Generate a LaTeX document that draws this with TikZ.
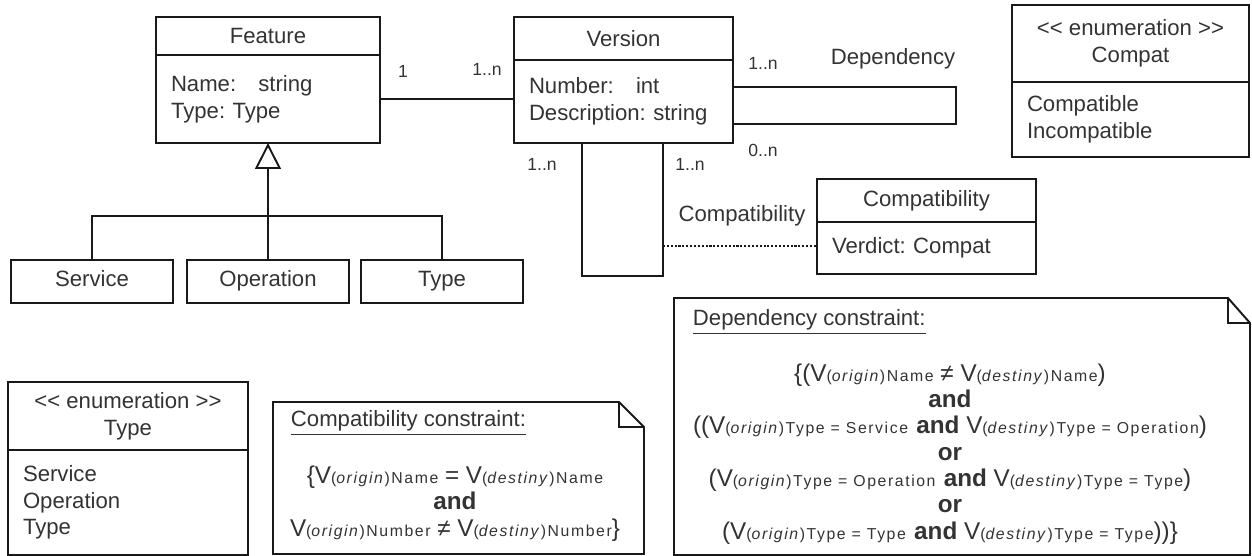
\documentclass[tikz,border=0pt]{standalone}
\usepackage{fontspec}
\setmainfont{Liberation Sans}
\newfontfamily\spacedfont[LetterSpace=10]{Liberation Sans}
\usetikzlibrary{positioning,arrows.meta}

\definecolor{inkgray}{RGB}{51,51,51}
\definecolor{inkline}{RGB}{25,25,25}

\newcommand{\umlfont}{\fontsize{12.6}{15.2}\selectfont}
\newcommand{\multfont}{\fontsize{10}{12}\selectfont}
\newcommand{\notefont}{\fontsize{13.8}{15}\selectfont}
\newcommand{\sm}[1]{{\spacedfont\fontsize{9}{11}\selectfont #1}}
\newcommand{\Vsub}[1]{V\sm{(\textit{#1})}}
\newcommand{\stereo}[1]{<\kern0pt< #1 >\kern0pt>}

\begin{document}
\frenchspacing
\begin{tikzpicture}[line width=1.1pt,draw=inkline,text=inkgray]
 	\def \toprow{10.40cm}
 	\def \subrow{5.49cm}
 	\def \multtop{9.74cm}
 	\def \multlow{7.84cm}

 	\useasboundingbox (0,0) rectangle (25.04cm,11.12cm);

 	\tikzstyle{class-head}=[draw,inner sep=0pt,outer sep=0pt,align=center,font=\umlfont]
 	\tikzstyle{class-body}=[draw,inner xsep=0.30cm,inner ysep=0pt,outer sep=0pt,align=left,font=\umlfont]
 	\tikzstyle{sub-node}=[draw,inner sep=0pt,minimum width=3.24cm,minimum height=0.86cm,text height=0.72em,text depth=0.2em,font=\umlfont]
 	\tikzstyle{mult}=[inner sep=1pt,font=\multfont]
 	\tikzstyle{role}=[inner sep=1pt,font=\umlfont]
 	% notes
 	\tikzstyle{note-title}=[anchor=west,inner sep=0pt,font=\umlfont]
 	\tikzstyle{note-text}=[align=center,inner sep=0pt,font=\notefont]

 	% classes
 	\node[class-head,minimum width=4.48cm,minimum height=0.76cm] (feature) at (5.36cm,\toprow) {Feature};
 	\node[class-body,below=0pt of feature,text width=3.88cm,minimum height=1.76cm] (feature-attr) {Name:\ \ \ string\\Type: Type};

 	\node[class-head,minimum width=4.38cm,minimum height=0.86cm] (version) at (12.47cm,10.35cm) {Version};
 	\node[class-body,below=0pt of version,text width=3.78cm,minimum height=1.66cm] (version-attr) {Number:\ \ \ int\\Description: string};

 	\node[class-head,minimum width=4.38cm,minimum height=0.86cm] (compat) at (18.53cm,7.11cm) {Compatibility};
 	\node[class-body,below=0pt of compat,text width=3.78cm,minimum height=1.04cm] (compat-attr) {Verdict: Compat};

 	% enumerations
 	\node[class-head,minimum width=4.74cm,minimum height=1.54cm] (compat-enum) at (22.61cm,10.25cm) {\stereo{enumeration}\\Compat};
 	\node[class-body,below=0pt of compat-enum,text width=4.14cm,minimum height=1.50cm] (compat-enum-lit) {Compatible\\Incompatible};

 	\node[class-head,minimum width=4.80cm,minimum height=1.36cm] (type-enum) at (2.56cm,2.80cm) {\stereo{enumeration}\\Type};
 	\node[class-body,below=0pt of type-enum,text width=4.20cm,minimum height=2.10cm] (type-enum-lit) {Service\\Operation\\Type};

 	% subclasses
 	\node[sub-node] (service)   at (1.84cm,\subrow) {Service};
 	\node[sub-node] (operation) at (5.36cm,\subrow) {Operation};
 	\node[sub-node] (type)      at (8.84cm,\subrow) {Type};

 	\coordinate (hub) at (5.36cm,6.80cm);
 	\draw (service.north) |- (hub) -| (type.north);
 	\draw[-{Triangle[open,length=0.52cm,width=0.52cm]}] (operation.north) -- (feature-attr.south);

 	% feature - version
 	\draw (feature-attr.east) -- (feature-attr.east -| version-attr.west);
 	\node[mult] (m-one) at (8.06cm,9.70cm) {1};
 	\node[mult] (m-ver) at (9.74cm,\multtop) {1..n};

 	% dependency
 	\coordinate (dep-a) at (19.12cm,9.38cm);
 	\coordinate (dep-b) at (19.12cm,8.64cm);
 	\draw (version-attr.east |- dep-a) -- (dep-a) -- (dep-b) -- (version-attr.east |- dep-b);
 	\node[mult] (dep-src) at (15.26cm,9.86cm) {1..n};
 	\node[mult] (dep-dst) at (15.26cm,8.12cm) {0..n};
 	\node[role] (dep-lbl) at (17.86cm,9.94cm) {Dependency};

 	% compatibility
 	\coordinate (cmp-a) at (11.64cm,5.60cm);
 	\coordinate (cmp-b) at (13.26cm,5.60cm);
 	\coordinate (cmp-mid) at (13.26cm,6.20cm);
 	\draw (version-attr.south -| cmp-a) -- (cmp-a) -- (cmp-b) -- (version-attr.south -| cmp-b);
 	\draw[dash pattern=on 1.2pt off 1pt,line width=0.8pt] (cmp-mid) -- (cmp-mid -| compat-attr.west);
 	\node[mult] (cmp-src) at (10.84cm,\multlow) {1..n};
 	\node[mult] (cmp-dst) at (13.80cm,\multlow) {1..n};
 	\node[role] (cmp-lbl) at (14.84cm,6.80cm) {Compatibility};

 	% notes
 	\draw (5.46cm,3.08cm) -- (12.38cm,3.08cm) -- (12.88cm,2.58cm) -- (12.88cm,0.04cm) -- (5.46cm,0.04cm) -- cycle;
 	\draw (12.38cm,3.08cm) |- (12.88cm,2.58cm);
 	\node[note-title] (cmp-note-title) at (5.80cm,2.66cm) {\underline{Compatibility constraint:}};
 	\node[note-text] (cmp-note) at (9.10cm,1.05cm) {%
 		\{\Vsub{origin}\sm{Name} = \Vsub{destiny}\sm{Name}\\
 		\textbf{and}\\
 		\Vsub{origin}\sm{Number} ≠ \Vsub{destiny}\sm{Number}\}};

 	\draw (13.48cm,5.16cm) -- (24.56cm,5.16cm) -- (25.00cm,4.66cm) -- (25.00cm,0.02cm) -- (13.48cm,0.02cm) -- cycle;
 	\draw (24.56cm,5.16cm) |- (25.00cm,4.66cm);
 	\node[note-title] (dep-note-title) at (13.84cm,4.68cm) {\underline{Dependency constraint:}};
 	\node[note-text] (dep-note) at (19.00cm,2.04cm) {%
 		\{(\Vsub{origin}\sm{Name} ≠ \Vsub{destiny}\sm{Name})\\
 		\textbf{and}\\
 		((\Vsub{origin}\sm{Type = Service} \textbf{and} \Vsub{destiny}\sm{Type = Operation})\\
 		\textbf{or}\\
 		(\Vsub{origin}\sm{Type = Operation} \textbf{and} \Vsub{destiny}\sm{Type = Type})\\
 		\textbf{or}\\
 		(\Vsub{origin}\sm{Type = Type} \textbf{and} \Vsub{destiny}\sm{Type = Type}))\}};
\end{tikzpicture}
\end{document}
